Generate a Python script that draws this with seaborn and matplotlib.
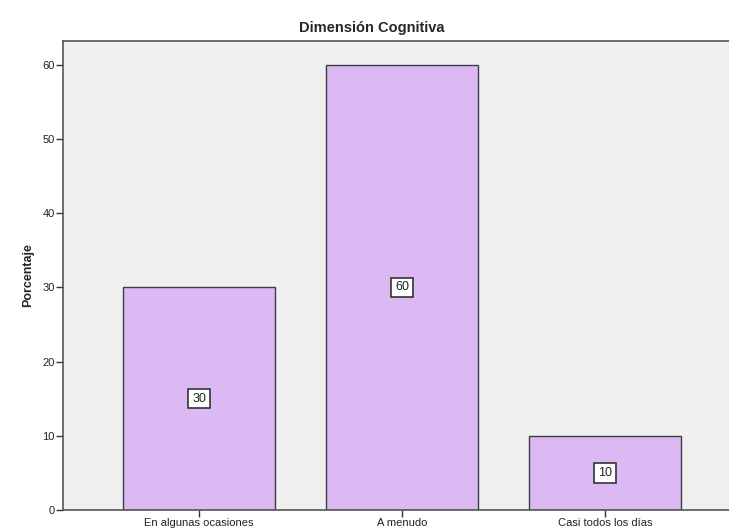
import matplotlib
matplotlib.use("Agg")
import matplotlib.pyplot as plt
import seaborn as sns
import pandas as pd

categories = ["En algunas ocasiones", "A menudo", "Casi todos los días"]
percentages = [30, 60, 10]
y_ticks = [0, 10, 20, 30, 40, 50, 60]

sns.set_style("white")
plt.rcParams["font.family"] = ["Liberation Sans", "DejaVu Sans"]

df = pd.DataFrame({"categoria": categories, "porcentaje": percentages})

fig = plt.figure(figsize=(7.29, 5.31), dpi=100)
ax = fig.add_axes([63 / 729, 21 / 531, 666 / 729, 469 / 531])
ax.set_facecolor("#f0f0f0")

sns.barplot(data=df, x="categoria", y="porcentaje", ax=ax, color="#dcb9f2",
            saturation=1, width=0.75, edgecolor="#3c3c46", linewidth=1.0)

for i, v in enumerate(percentages):
    ax.text(i, v / 2, f"{v}", ha="center", va="center", fontsize=9, color="#222222",
            bbox=dict(boxstyle="square,pad=0.3", facecolor="white",
                      edgecolor="#333333", linewidth=1.2))

ax.set_xlim(-0.67, 2.61)
ax.set_ylim(0, 63.2)
ax.set_yticks(y_ticks)
ax.tick_params(axis="both", which="both", bottom=True, left=True, length=5, width=1,
               color="#333333", labelsize=8, labelcolor="#222222", pad=1,
               direction="out")
ax.tick_params(axis="x", pad=1)

for side in ["left", "bottom", "top"]:
    ax.spines[side].set_visible(True)
    ax.spines[side].set_color("#555555")
    ax.spines[side].set_linewidth(1.2)
ax.spines["right"].set_visible(False)

ax.set_xlabel("")
ax.set_ylabel("Porcentaje", fontsize=9, fontweight="bold", labelpad=6)
fig.text(372 / 729, 1 - 28 / 531, "Dimensión Cognitiva", ha="center", va="center",
         fontsize=10.5, fontweight="bold")

fig.savefig("out.png", dpi=100)
